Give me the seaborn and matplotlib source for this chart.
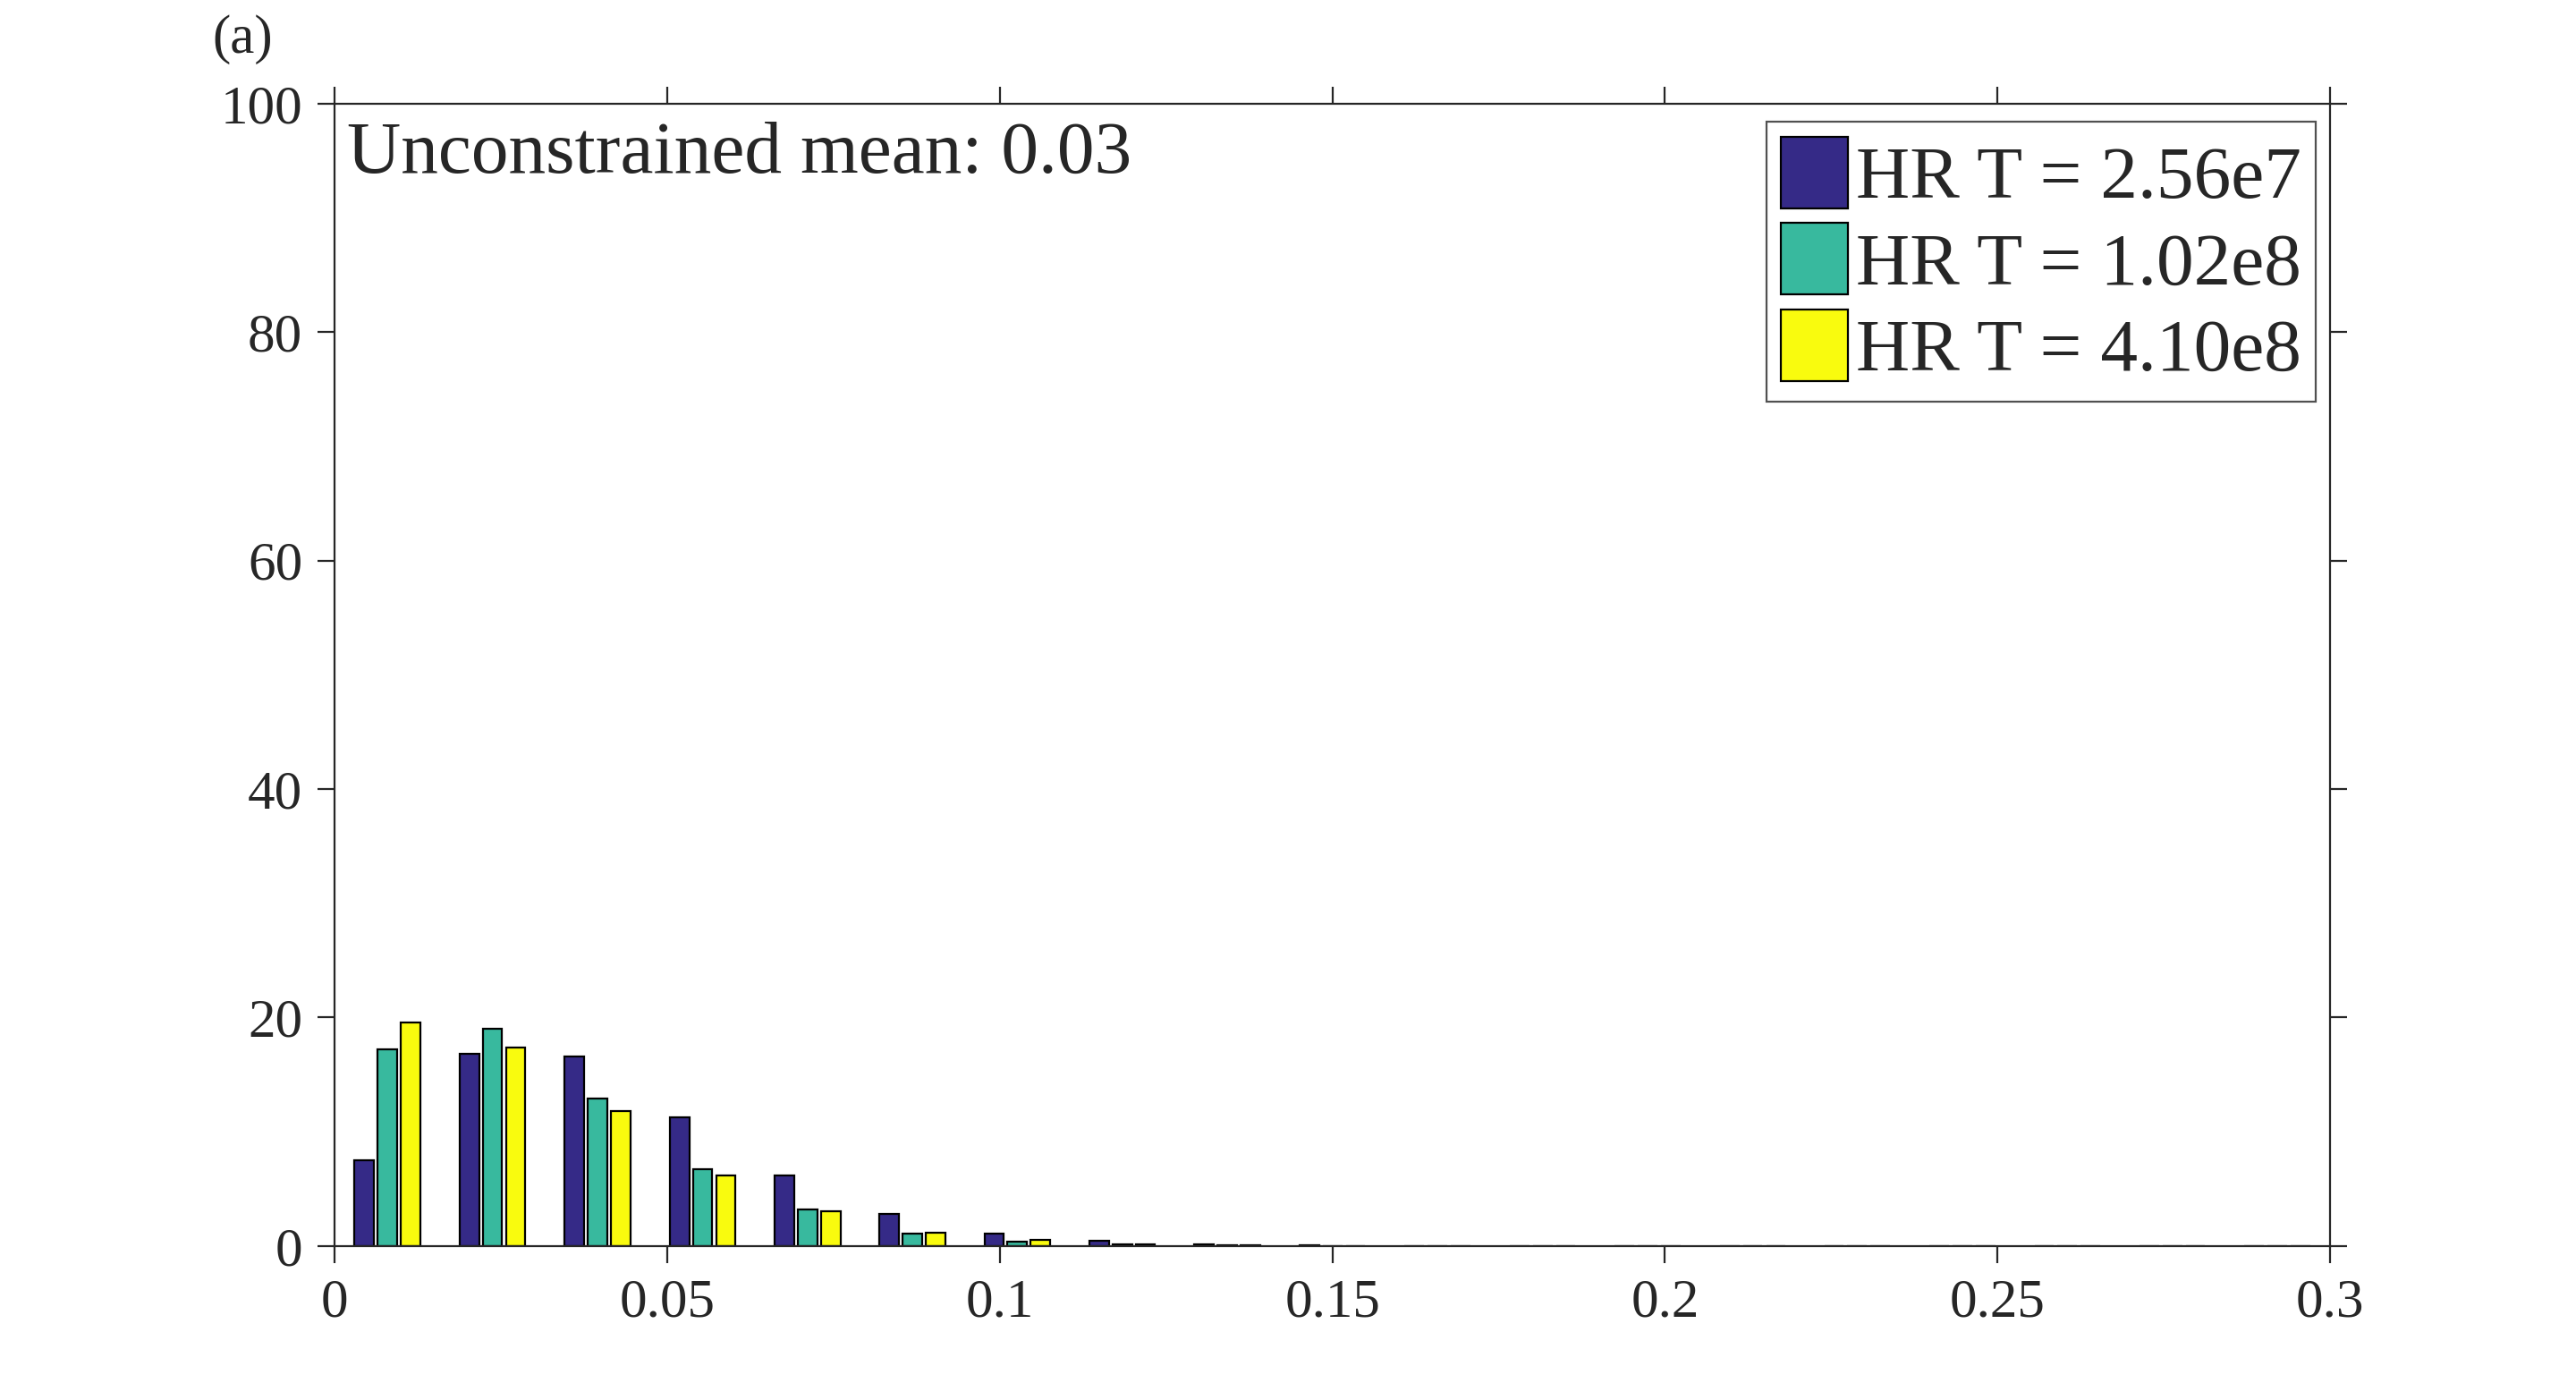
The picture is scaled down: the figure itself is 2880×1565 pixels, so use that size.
import numpy as np
import pandas as pd
import matplotlib
matplotlib.use("Agg")
import matplotlib.pyplot as plt
import seaborn as sns

# bin centres (19 bins over 0..0.3)
bin_centers = [0.0079, 0.0237, 0.0395, 0.0553, 0.0711, 0.0868, 0.1026, 0.1184,
               0.1342, 0.1500, 0.1658, 0.1816, 0.1974, 0.2132, 0.2289, 0.2447,
               0.2605, 0.2763, 0.2921]

# percentage of samples per bin
hr_256e7 = [7.5, 16.8, 16.6, 11.3, 6.2, 2.8, 1.1, 0.45, 0.18, 0.05, 0.02, 0, 0, 0, 0, 0, 0, 0, 0]
hr_102e8 = [17.2, 19.0, 12.9, 6.7, 3.2, 1.1, 0.4, 0.13, 0.08, 0.02, 0, 0, 0, 0, 0, 0, 0, 0, 0]
hr_410e8 = [19.6, 17.4, 11.8, 6.2, 3.05, 1.2, 0.55, 0.18, 0.05, 0.01, 0, 0, 0, 0, 0, 0, 0, 0, 0]

series_names = ["HR T = 2.56e7", "HR T = 1.02e8", "HR T = 4.10e8"]
colors = ["#352a87", "#38b99e", "#f9fb0e"]

df = pd.DataFrame({
    "bin": bin_centers * 3,
    "pct": hr_256e7 + hr_102e8 + hr_410e8,
    "series": [series_names[0]] * 19 + [series_names[1]] * 19 + [series_names[2]] * 19,
})

sns.set_style("white")
plt.rcParams["font.family"] = ["Liberation Serif", "DejaVu Serif"]

fig = plt.figure(figsize=(14.4, 7.825), dpi=200)
ax = fig.add_axes([0.130, 0.110, 0.7745, 0.816])

sns.barplot(data=df, x="bin", y="pct", hue="series", native_scale=True,
            palette=colors, saturation=1, width=0.665, gap=0.16,
            edgecolor="black", linewidth=0.8, ax=ax, errorbar=None)

ax.set_xlim(0, 0.3)
ax.set_ylim(0, 100)
ax.set_xticks([0, 0.05, 0.1, 0.15, 0.2, 0.25, 0.3])
ax.set_xticklabels(["0", "0.05", "0.1", "0.15", "0.2", "0.25", "0.3"])
ax.set_yticks([0, 20, 40, 60, 80, 100])
ax.set_yticklabels(["0", "20", "40", "60", "80", "100"])
ax.set_xlabel("")
ax.set_ylabel("")
ax.tick_params(axis="both", which="both", direction="out", length=7,
               width=0.8, color="#262626", labelsize=22, labelcolor="#262626",
               top=True, right=True, bottom=True, left=True, pad=6)
for s in ax.spines.values():
    s.set_color("#262626")
    s.set_linewidth(0.8)

ax.text(0.006, 0.985, "Unconstrained mean: 0.03", transform=ax.transAxes,
        fontsize=30, va="top", ha="left")

leg = ax.legend(loc="upper right", bbox_to_anchor=(0.993, 0.984), fontsize=30,
                frameon=True, fancybox=False, edgecolor="#262626",
                handlelength=0.9, handleheight=1.1, handletextpad=0.1,
                labelspacing=0.12, borderpad=0.2, borderaxespad=0.0)
leg.get_frame().set_linewidth(0.8)

fig.text(0.094, 0.972, "(a)", fontsize=22, ha="center", va="center")

fig.savefig("out.png", dpi=200)
